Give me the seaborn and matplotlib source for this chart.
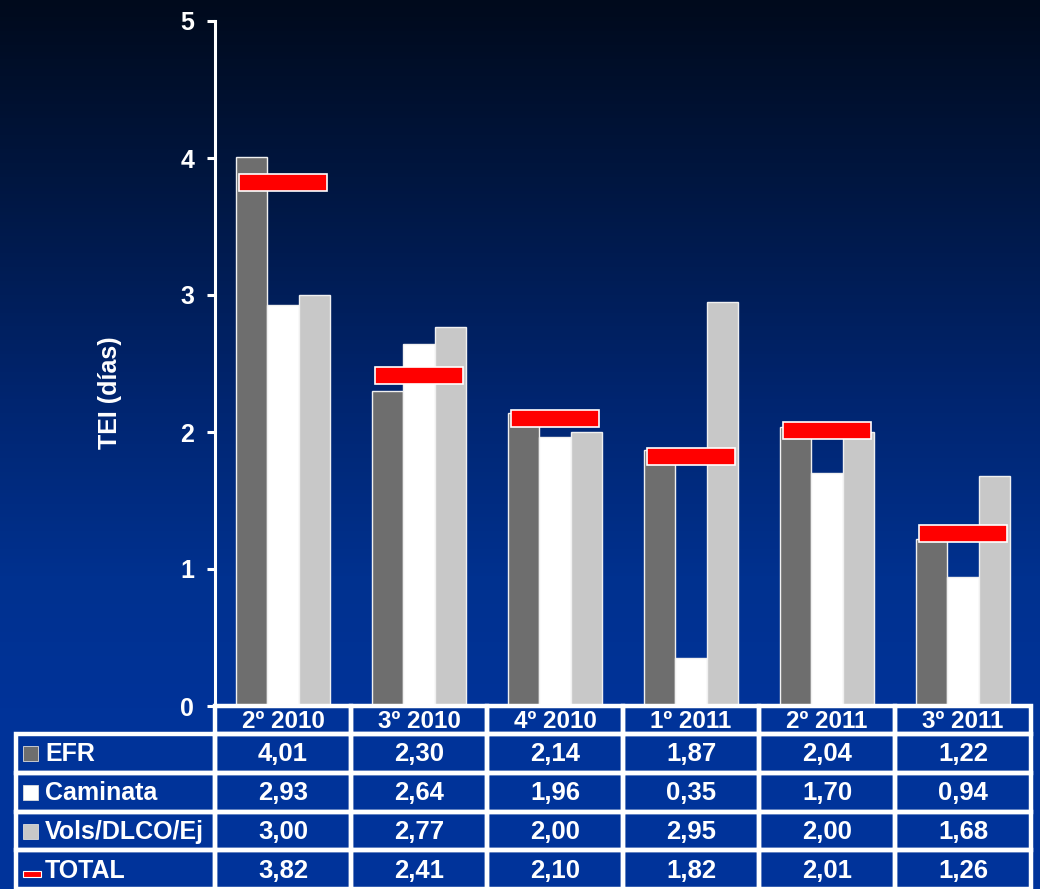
import numpy as np
import pandas as pd
import matplotlib
matplotlib.use("Agg")
import matplotlib.pyplot as plt
import matplotlib.transforms as mtransforms
from matplotlib.patches import Rectangle
from matplotlib.colors import LinearSegmentedColormap
import seaborn as sns

# ---- data -------------------------------------------------------------
trimestres = ["2º 2010", "3º 2010", "4º 2010", "1º 2011", "2º 2011", "3º 2011"]
efr = [4.01, 2.30, 2.14, 1.87, 2.04, 1.22]
caminata = [2.93, 2.64, 1.96, 0.35, 1.70, 0.94]
vols = [3.00, 2.77, 2.00, 2.95, 2.00, 1.68]
total = [3.82, 2.41, 2.10, 1.82, 2.01, 1.26]
series = ["EFR", "Caminata", "Vols/DLCO/Ej"]
total_label = "TOTAL"
y_ticks = [0, 1, 2, 3, 4, 5]
y_label = "TEI (días)"

# ---- styling ----------------------------------------------------------
colors = {"EFR": "#6e6e6e", "Caminata": "#ffffff", "Vols/DLCO/Ej": "#c8c8c8"}
red = "#ff0000"
sns.set_style("white")
plt.rcParams["font.family"] = ["Liberation Sans", "DejaVu Sans"]
plt.rcParams["font.weight"] = "bold"

W, H = 1040, 889
fig = plt.figure(figsize=(W / 100, H / 100), dpi=100)

# vertical gradient background
bg = fig.add_axes([0, 0, 1, 1], zorder=-10)
grad_cmap = LinearSegmentedColormap.from_list(
    "bg", [(0.0, "#000a1c"), (0.2, "#001640"), (0.45, "#002570"),
           (0.65, "#00318f"), (0.8, "#003399"), (1.0, "#00349b")])
bg.imshow(np.linspace(0, 1, 256)[:, None], aspect="auto", cmap=grad_cmap,
          extent=[0, 1, 1, 0])
bg.set_xlim(0, 1)
bg.set_ylim(1, 0)
bg.axis("off")

# main axes (pixel layout converted to figure fractions)
x0, x1 = 215, 1031
y_top, y_bot = 21, 706
ax = fig.add_axes([x0 / W, (H - y_bot) / H, (x1 - x0) / W, (y_bot - y_top) / H])
ax.set_facecolor("none")

df = pd.DataFrame({
    "trimestre": trimestres * 3,
    "serie": [s for s in series for _ in trimestres],
    "valor": efr + caminata + vols,
})
sns.barplot(data=df, x="trimestre", y="valor", hue="serie", order=trimestres,
            hue_order=series, palette=colors, width=0.685, gap=0,
            edgecolor="#f0f0f0", linewidth=1.0, saturation=1, legend=False,
            ax=ax, zorder=2)

# TOTAL markers: thick red dashes centred on each value
dash_h = 0.125
ax.bar(np.arange(len(trimestres)), [dash_h] * len(total),
       bottom=[t - dash_h / 2 for t in total], width=0.64, color=red,
       edgecolor="white", linewidth=1.2, zorder=4)

ax.set_xlim(-0.5, len(trimestres) - 0.5)
ax.set_ylim(0, 5)
ax.set_yticks(y_ticks)
ax.set_yticklabels([str(t) for t in y_ticks])
ax.set_xticks([])
ax.set_xlabel("")
ax.set_ylabel(y_label, color="white", fontsize=18, fontweight="bold")
ax.yaxis.set_label_coords(-0.114, 0.458)
ax.tick_params(axis="y", colors="white", labelsize=18, length=6, width=2.2,
               pad=9, direction="out", left=True)
for lbl in ax.get_yticklabels():
    lbl.set_fontweight("bold")
for side in ["top", "right"]:
    ax.spines[side].set_visible(False)
for side in ["left", "bottom"]:
    ax.spines[side].set_color("white")
    ax.spines[side].set_linewidth(2.2)

# ---- data table below the axis ---------------------------------------
# x in category data units, y in figure pixels from the top
px_per_unit = (x1 - x0) / len(trimestres)
to_fig_y = mtransforms.Affine2D().scale(1, -1).translate(0, H) + \
    mtransforms.Affine2D().scale(1 / W, 1 / H) + fig.transFigure
trans = mtransforms.blended_transform_factory(ax.transData, to_fig_y)

label_left = -0.5 - (x0 - 16) / px_per_unit
header_top, header_bot = 706, 734
row_pitch = 38.8
row_tops = [734 + i * row_pitch for i in range(4)]
border_lw = 3.2

def cell(xa, xb, ya, yb):
    ax.add_patch(Rectangle((xa, ya), xb - xa, yb - ya, transform=trans,
                           fill=False, edgecolor="white", linewidth=border_lw,
                           clip_on=False, zorder=5))

def txt(x, y, s, ha="center", size=18.5):
    ax.text(x, y, s, transform=trans, ha=ha, va="center", color="white",
            fontsize=size, fontweight="bold", clip_on=False, zorder=6)

for i, t in enumerate(trimestres):
    cell(i - 0.5, i + 0.5, header_top, header_bot)
    txt(i, (header_top + header_bot) / 2 + 1, t, size=17.5)

row_values = [efr, caminata, vols, total]
row_names = series + [total_label]
swatches = [colors["EFR"], colors["Caminata"], colors["Vols/DLCO/Ej"], red]
for r, (name, vals) in enumerate(zip(row_names, row_values)):
    ya, yb = row_tops[r], row_tops[r] + row_pitch
    yc = (ya + yb) / 2
    cell(label_left, -0.5, ya, yb)
    for i, v in enumerate(vals):
        cell(i - 0.5, i + 0.5, ya, yb)
        txt(i, yc + 1, f"{v:.2f}".replace(".", ","), size=18.5)
    # legend key in front of the row name
    sx = label_left + 7 / px_per_unit
    if name == total_label:
        ax.add_patch(Rectangle((sx, yc + 1), 18 / px_per_unit, 6,
                               transform=trans, facecolor=red,
                               edgecolor="white", linewidth=0.8,
                               clip_on=False, zorder=6))
    else:
        ax.add_patch(Rectangle((sx, yc - 7), 15 / px_per_unit, 15,
                               transform=trans, facecolor=swatches[r],
                               edgecolor="#dddddd", linewidth=0.6,
                               clip_on=False, zorder=6))
    txt(label_left + 29 / px_per_unit, yc + 1, name, ha="left", size=18)

fig.savefig("out.png", dpi=100)
